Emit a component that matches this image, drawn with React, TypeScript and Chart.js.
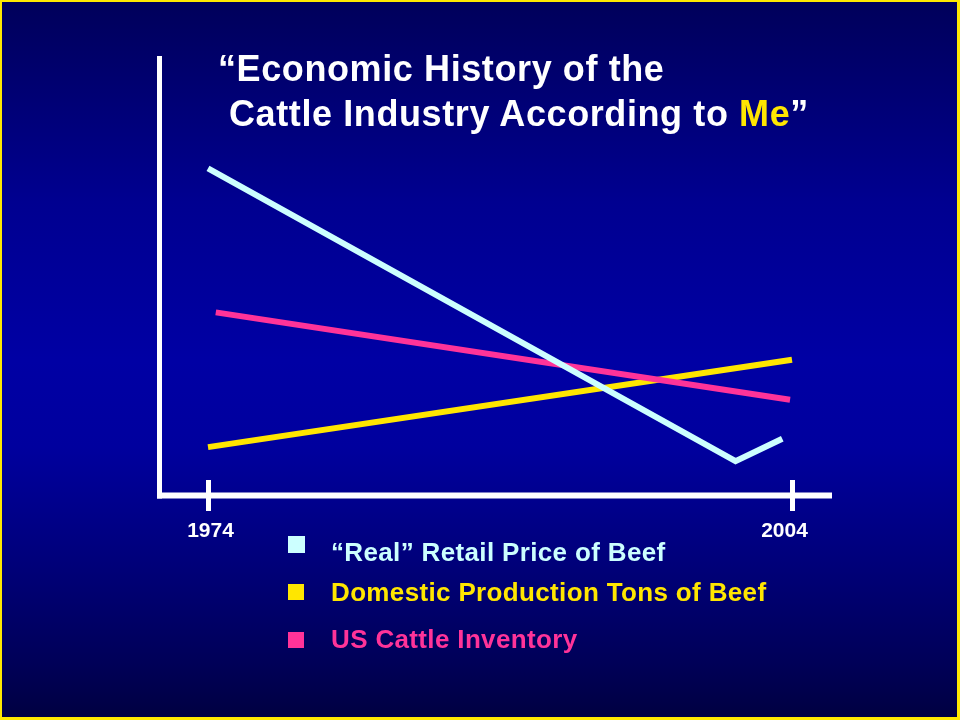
import React, { useEffect, useRef } from "react";
import { Chart, registerables } from "chart.js";

Chart.register(...registerables);

// ---- data ----
const seriesNames = [
  "\u201CReal\u201D Retail Price of Beef",
  "Domestic Production Tons of Beef",
  "US Cattle Inventory",
];
const seriesColors = ["#ccffff", "#ffe600", "#ff3399"];

const priceYears = [1974, 2001.1, 2003.5];
const priceValues = [74.4, 7.7, 12.8];

const productionYears = [1974, 2004];
const productionValues = [10.9, 30.8];

const inventoryYears = [1974.4, 2003.9];
const inventoryValues = [41.6, 21.7];

const tickYears = [1974, 2004];
const tickLabels = ["1974", "2004"];

const titleLine1 = "\u201CEconomic History of the";
const titleLine2 = "Cattle Industry According to ";
const titleHighlight = "Me";
const titleClose = "\u201D";

const FONT = '"Liberation Sans", Arial, Helvetica, sans-serif';

const toPoints = (xs: number[], ys: number[]) => xs.map((x, i) => ({ x, y: ys[i] }));

const axesPlugin = {
  id: "slideAxes",
  beforeDatasetsDraw(chart: any) {
    const { ctx, chartArea: a, scales } = chart;
    ctx.save();
    ctx.strokeStyle = "#ffffff";
    ctx.lineCap = "butt";
    // vertical axis
    ctx.lineWidth = 5;
    ctx.beginPath();
    ctx.moveTo(a.left + 0.5, a.top);
    ctx.lineTo(a.left + 0.5, a.bottom + 3.5);
    ctx.stroke();
    // horizontal axis
    ctx.lineWidth = 6;
    ctx.beginPath();
    ctx.moveTo(a.left - 2, a.bottom + 0.5);
    ctx.lineTo(a.right, a.bottom + 0.5);
    ctx.stroke();
    // tick marks + labels
    const shifts = [2, -8];
    ctx.lineWidth = 5;
    ctx.fillStyle = "#ffffff";
    ctx.font = "bold 21px " + FONT;
    ctx.textAlign = "center";
    ctx.textBaseline = "alphabetic";
    tickYears.forEach((yr, i) => {
      const x = Math.round(scales.x.getPixelForValue(yr)) + 0.5;
      ctx.beginPath();
      ctx.moveTo(x, a.bottom - 15);
      ctx.lineTo(x, a.bottom + 16);
      ctx.stroke();
      ctx.fillText(tickLabels[i], x + shifts[i], a.bottom + 42);
    });
    ctx.restore();
  },
};

export default function App() {
  const canvasRef = useRef<HTMLCanvasElement | null>(null);

  useEffect(() => {
    document.body.style.margin = "0";
    const canvas = canvasRef.current;
    if (!canvas) return;
    const chart = new Chart(canvas, {
      type: "line",
      data: {
        datasets: [
          {
            label: seriesNames[0],
            data: toPoints(priceYears, priceValues),
            borderColor: seriesColors[0],
            backgroundColor: seriesColors[0],
          },
          {
            label: seriesNames[2],
            data: toPoints(inventoryYears, inventoryValues),
            borderColor: seriesColors[2],
            backgroundColor: seriesColors[2],
          },
          {
            label: seriesNames[1],
            data: toPoints(productionYears, productionValues),
            borderColor: seriesColors[1],
            backgroundColor: seriesColors[1],
          },
        ].map((d) => ({
          ...d,
          borderWidth: 6,
          borderCapStyle: "butt" as const,
          borderJoinStyle: "miter" as const,
          pointRadius: 0,
          pointHoverRadius: 0,
          tension: 0,
          fill: false,
          clip: false as any,
        })),
      },
      options: {
        animation: false,
        responsive: false,
        maintainAspectRatio: false,
        devicePixelRatio: 1,
        layout: { padding: { left: 159, right: 128, top: 56, bottom: 225 } },
        plugins: {
          legend: { display: false },
          title: { display: false },
          tooltip: { enabled: false },
        },
        events: [],
        scales: {
          x: { type: "linear", min: 1971.483, max: 2006.055, display: false },
          y: { type: "linear", min: 0, max: 100, display: false },
        },
      },
      plugins: [axesPlugin],
    });
    return () => chart.destroy();
  }, []);

  const squareTops = [536, 584, 632];
  const squareSizes = [17, 16, 16];
  const textTops = [539, 579, 626];

  const titleStyle: React.CSSProperties = {
    position: "absolute",
    fontSize: 36,
    lineHeight: "36px",
    fontWeight: "bold",
    color: "#ffffff",
    whiteSpace: "nowrap",
    letterSpacing: "0.6px",
  };

  return (
    <div
      style={{
        position: "absolute",
        left: 0,
        top: 0,
        width: 960,
        height: 720,
        overflow: "hidden",
        fontFamily: FONT,
        background:
          "linear-gradient(to bottom, #00005a 0%, #000090 28%, #0000a4 50%, #00009e 62%, #00007a 78%, #000058 92%, #000040 100%)",
      }}
    >
      <canvas
        ref={canvasRef}
        width={960}
        height={720}
        style={{ position: "absolute", left: 0, top: 0, width: 960, height: 720 }}
      />
      <div style={{ ...titleStyle, left: 218, top: 51 }}>{titleLine1}</div>
      <div style={{ ...titleStyle, left: 229, top: 96 }}>
        {titleLine2}
        <span style={{ color: seriesColors[1] }}>{titleHighlight}</span>
        {titleClose}
      </div>
      {seriesNames.map((name, i) => (
        <React.Fragment key={name}>
          <div
            style={{
              position: "absolute",
              left: 288,
              top: squareTops[i],
              width: squareSizes[i],
              height: squareSizes[i],
              background: seriesColors[i],
            }}
          />
          <div
            style={{
              position: "absolute",
              left: 331,
              top: textTops[i],
              fontSize: 26,
              lineHeight: "26px",
              fontWeight: "bold",
              color: seriesColors[i],
              whiteSpace: "nowrap",
              letterSpacing: "0.35px",
            }}
          >
            {name}
          </div>
        </React.Fragment>
      ))}
      <div
        style={{
          position: "absolute",
          left: 0,
          top: 0,
          width: 960,
          height: 720,
          boxSizing: "border-box",
          borderStyle: "solid",
          borderColor: "#ffe800",
          borderWidth: "2px 3px 3px 2px",
          pointerEvents: "none",
        }}
      />
    </div>
  );
}
